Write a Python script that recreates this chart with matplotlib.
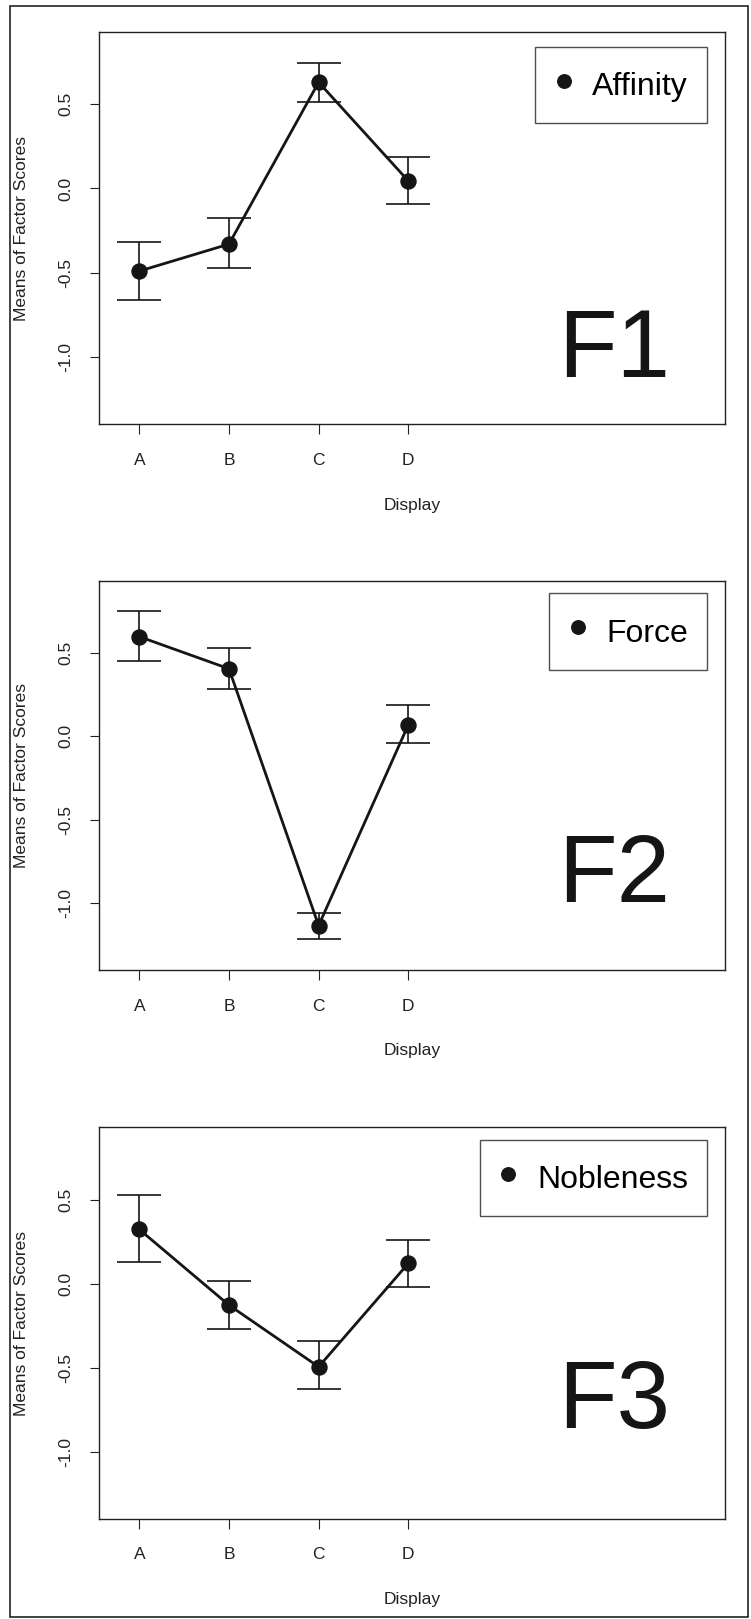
import matplotlib
matplotlib.use("Agg")
import matplotlib.pyplot as plt
from matplotlib.patches import Rectangle

plt.rcParams['font.family'] = ['Liberation Sans', 'DejaVu Sans']

# data
displays = ['A', 'B', 'C', 'D']
factor_names = ['Affinity', 'Force', 'Nobleness']
panel_tags = ['F1', 'F2', 'F3']

f1_mean = [-0.49, -0.33, 0.63, 0.045]
f1_upper = [-0.32, -0.175, 0.746, 0.186]
f1_lower = [-0.66, -0.474, 0.511, -0.093]

f2_mean = [0.595, 0.403, -1.132, 0.068]
f2_upper = [0.746, 0.527, -1.056, 0.184]
f2_lower = [0.450, 0.283, -1.215, -0.041]

f3_mean = [0.322, -0.128, -0.495, 0.120]
f3_upper = [0.526, 0.016, -0.344, 0.258]
f3_lower = [0.126, -0.270, -0.627, -0.021]

yticks = [-1.0, -0.5, 0.0, 0.5]
ytick_labels = ['-1.0', '-0.5', '0.0', '0.5']

means = [f1_mean, f2_mean, f3_mean]
uppers = [f1_upper, f2_upper, f3_upper]
lowers = [f1_lower, f2_lower, f3_lower]

W, H = 751, 1619
fig = plt.figure(figsize=(W / 100, H / 100), dpi=100)

# outer frame around the whole figure
fig.patches.append(Rectangle((10 / W, 2 / H), 738 / W, 1 - 8 / H,
                             transform=fig.transFigure, fill=False,
                             edgecolor='#222222', linewidth=1.2))

# axes boxes in pixels: (top, bottom)
boxes = [(31.7, 424.5), (580.6, 970.4), (1127.2, 1519.0)]
left_px, right_px = 99.3, 725.0
tag_y = [0.12, 0.1765, 0.233]
legend_top = [15.0, 12.8, 12.4]

ink = '#151515'
x = [1, 2, 3, 4]

for i in range(3):
    top, bot = boxes[i]
    ax = fig.add_axes([left_px / W, 1 - bot / H,
                       (right_px - left_px) / W, (bot - top) / H])
    m = means[i]
    err = [[mm - lo for mm, lo in zip(m, lowers[i])],
           [up - mm for mm, up in zip(m, uppers[i])]]
    ax.errorbar(x, m, yerr=err, fmt='none', ecolor=ink, elinewidth=1.2,
                capsize=15.8, capthick=1.2)
    ax.plot(x, m, '-', color=ink, linewidth=2.0)
    ax.plot(x, m, 'o', color=ink, markersize=10.8, label=factor_names[i])

    ax.set_xlim(0.554, 7.532)
    ax.set_ylim(-1.40, 0.93)
    ax.set_xticks(x)
    ax.set_xticklabels(displays)
    ax.set_yticks(yticks)
    ax.set_yticklabels(ytick_labels, rotation=90, va='center')
    ax.tick_params(axis='x', length=7.5, width=0.8, pad=13, labelsize=12.5,
                   colors='#222222')
    ax.tick_params(axis='y', length=6.5, width=0.8, pad=12, labelsize=12.5,
                   colors='#222222')
    for s in ax.spines.values():
        s.set_linewidth(1.0)
        s.set_color('#222222')

    ax.set_xlabel('Display', fontsize=12.5, color='#222222')
    ax.xaxis.set_label_coords(0.5, -0.186)
    ax.set_ylabel('Means of Factor Scores', fontsize=12.5, color='#222222')
    ax.yaxis.set_label_coords(-0.112, 0.5)

    ax.text(0.7335, tag_y[i], panel_tags[i], transform=ax.transAxes,
            fontsize=69, color=ink, ha='left', va='baseline')

    ph = bot - top
    leg = ax.legend(loc='upper right',
                    bbox_to_anchor=((707.3 - left_px) / (right_px - left_px),
                                    1 - legend_top[i] / ph),
                    borderaxespad=0, fontsize=23, frameon=True, fancybox=False,
                    handlelength=0.6, handletextpad=0.6, borderpad=0.6,
                    handleheight=1.45, markerscale=0.9)
    leg.get_frame().set_edgecolor('#222222')
    leg.get_frame().set_linewidth(1.0)

fig.savefig('out.png', dpi=100)
